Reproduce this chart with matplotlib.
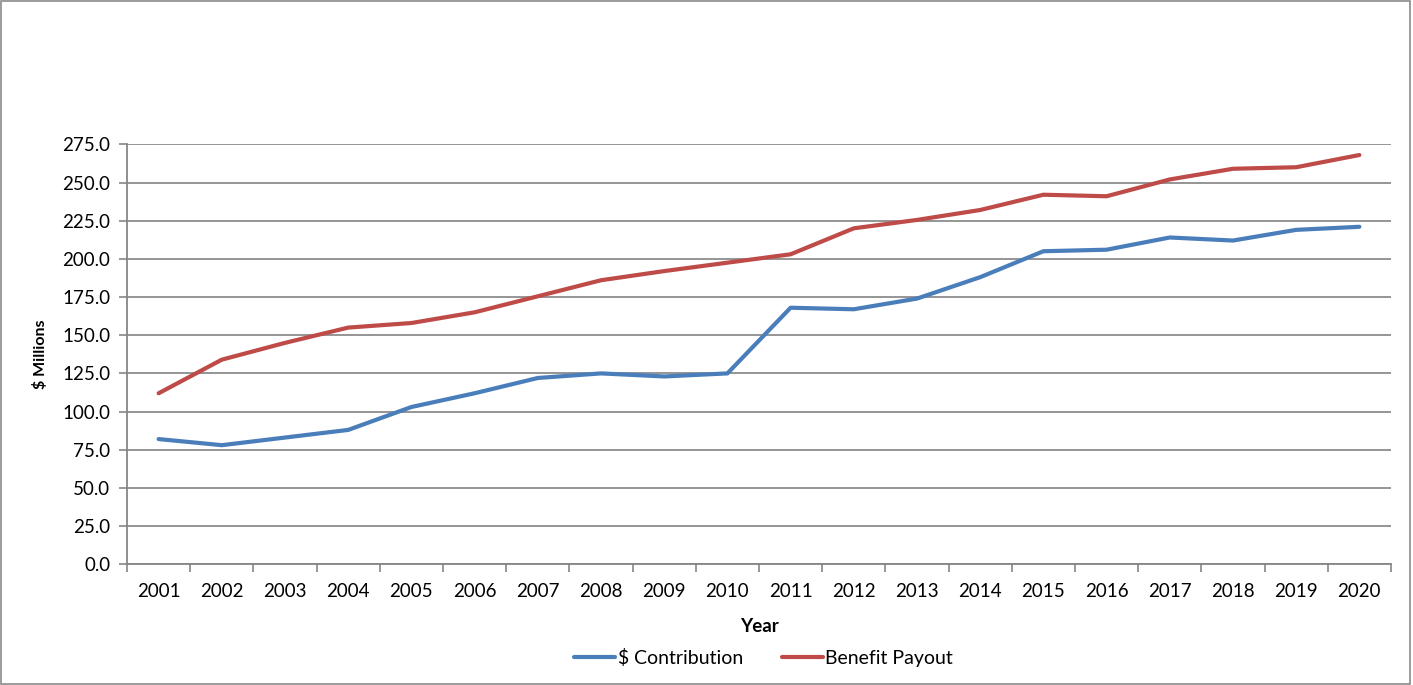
import matplotlib
matplotlib.use("Agg")
import matplotlib.pyplot as plt
from matplotlib.patches import Rectangle
from matplotlib.ticker import FixedLocator, FixedFormatter

plt.rcParams['font.family'] = ['Lato', 'DejaVu Sans']

years = [str(y) for y in range(2001, 2021)]
contribution = [82, 78, 83, 88, 103, 112, 122, 125, 123, 125,
                168, 167, 174, 188, 205, 206, 214, 212, 219, 221]
benefit_payout = [112, 134, 145, 155, 158, 165, 175.5, 186, 192, 197.5,
                  203, 220, 225.5, 232, 242, 241, 252, 259, 260, 268]
y_ticks = [i * 25 for i in range(12)]

fig = plt.figure(figsize=(14.13, 6.85), dpi=100)
fig.patches.append(Rectangle((0.001, 0.001), 0.997, 0.997, transform=fig.transFigure,
                             fill=False, edgecolor='#8a8a8a', linewidth=1.2))

ax = fig.add_axes([0.0899, 0.1762, 0.8945, 0.6131])
x = list(range(len(years)))
ax.plot(x, contribution, color='#4A7EBB', lw=3.0, solid_capstyle='round',
        solid_joinstyle='round', label='$ Contribution', zorder=3)
ax.plot(x, benefit_payout, color='#BE4B48', lw=3.0, solid_capstyle='round',
        solid_joinstyle='round', label='Benefit Payout', zorder=3)

ax.set_xlim(-0.5, len(years) - 0.5)
ax.set_ylim(0, 275)

ax.set_yticks(y_ticks)
ax.set_yticklabels([f"{v:.1f}" for v in y_ticks])
ax.yaxis.grid(True, color='#8c8c8c', linewidth=1.3)
ax.set_axisbelow(True)

ax.xaxis.set_major_locator(FixedLocator([i - 0.5 for i in range(len(years) + 1)]))
ax.xaxis.set_major_formatter(FixedFormatter([''] * (len(years) + 1)))
ax.xaxis.set_minor_locator(FixedLocator(x))
ax.xaxis.set_minor_formatter(FixedFormatter(years))
ax.tick_params(axis='x', which='minor', length=0, pad=13.5, labelsize=13.5, colors='black')
ax.tick_params(axis='x', which='major', length=6, width=1.2, color='#868686')
ax.tick_params(axis='y', length=6, width=1.2, color='#868686', labelsize=13.5, pad=6)

for s in ['top', 'right']:
    ax.spines[s].set_visible(False)
for s in ['left', 'bottom']:
    ax.spines[s].set_color('#868686')
    ax.spines[s].set_linewidth(1.3)

ax.set_ylabel('$ Millions', fontsize=11.5, fontweight='bold', labelpad=10)
ax.set_xlabel('Year', fontsize=13.5, fontweight='bold', labelpad=13)

ax.legend(loc='upper center', bbox_to_anchor=(0.5036, -0.16), ncol=2, frameon=False,
          fontsize=14, handlelength=2.1, handletextpad=0.15, columnspacing=2.0)

fig.savefig('out.png', dpi=100)
